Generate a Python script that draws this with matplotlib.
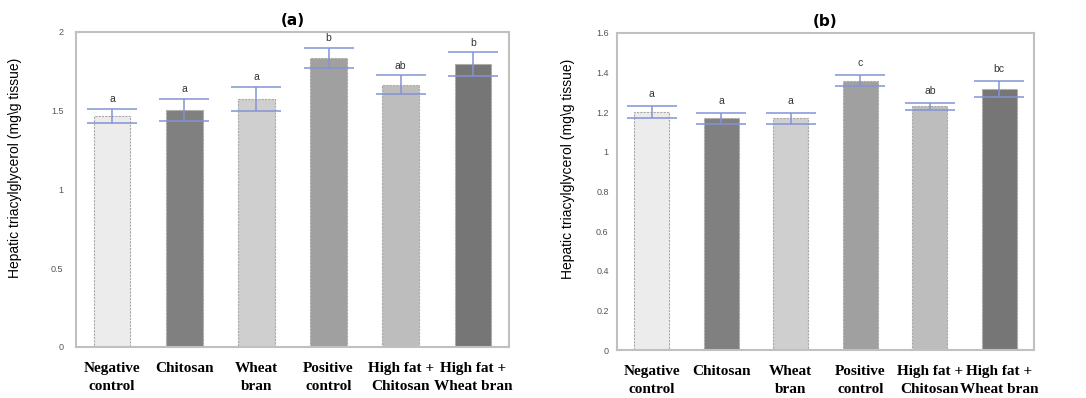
import numpy as np
import matplotlib
matplotlib.use("Agg")
import matplotlib.pyplot as plt

groups = ['Negative\ncontrol', 'Chitosan', 'Wheat\nbran', 'Positive\ncontrol',
          'High fat +\nChitosan', 'High fat +\nWheat bran']

# panel (a)
mean_a = [1.465, 1.505, 1.575, 1.835, 1.665, 1.795]
err_a = [0.045, 0.07, 0.075, 0.065, 0.06, 0.075]
letters_a = ['a', 'a', 'a', 'b', 'ab', 'b']

# panel (b)
mean_b = [1.20, 1.17, 1.17, 1.36, 1.23, 1.318]
err_b = [0.03, 0.027, 0.027, 0.027, 0.018, 0.04]
letters_b = ['a', 'a', 'a', 'c', 'ab', 'bc']

bar_colors = ['#ececec', '#808080', '#cfcfcf', '#a0a0a0', '#bdbdbd', '#767676']
err_color = '#8393d4'
ylab = 'Hepatic triacylglycerol (mg\\g tissue)'


def draw_panel(ax, means, errs, letters, title, ymax, yticks, ytl, off, labx):
    x = np.arange(len(groups))
    ax.bar(x, means, width=0.51, color=bar_colors, edgecolor='#a8a8a8',
           linewidth=0.8, linestyle=(0, (2, 1)), zorder=2)
    ax.errorbar(x, means, yerr=errs, fmt='none', ecolor=err_color,
                elinewidth=1.1, capsize=18, capthick=1.1, zorder=3)
    for xi, m, e, l in zip(x, means, errs, letters):
        ax.text(xi, m + e + off, l, ha='center', va='bottom', fontsize=7.5,
                color='#333333', family='Liberation Sans')
    ax.set_xlim(-0.5, len(groups) - 0.5)
    ax.set_ylim(0, ymax)
    ax.set_yticks(yticks)
    ax.set_yticklabels(ytl, fontsize=6.5, color='#555555', family='Liberation Sans')
    ax.set_xticks(x)
    ax.set_xticklabels(groups, fontsize=11, fontweight='bold',
                       family='Liberation Serif', linespacing=1.45)
    ax.tick_params(length=0)
    ax.tick_params(axis='x', pad=11)
    ax.tick_params(axis='y', pad=9)
    for s in ax.spines.values():
        s.set_color('#c0c0c0')
        s.set_linewidth(1.5)
    ax.set_title(title, fontsize=11, fontweight='bold', pad=5)
    ax.set_ylabel(ylab, fontsize=10, family='Liberation Sans')
    ax.yaxis.set_label_coords(labx, 0.57)


fig = plt.figure(figsize=(10.86, 3.98), dpi=100)
ax1 = fig.add_axes([76 / 1086, 1 - 347 / 398, 433 / 1086, 315 / 398])
ax2 = fig.add_axes([617 / 1086, 1 - 350 / 398, 417 / 1086, 317 / 398])

draw_panel(ax1, mean_a, err_a, letters_a, '(a)', 2,
           [0, 0.5, 1, 1.5, 2], ['0', '0.5', '1', '1.5', '2'], 0.03, -0.125)
draw_panel(ax2, mean_b, err_b, letters_b, '(b)', 1.6,
           [0, 0.2, 0.4, 0.6, 0.8, 1, 1.2, 1.4, 1.6],
           ['0', '0.2', '0.4', '0.6', '0.8', '1', '1.2', '1.4', '1.6'], 0.035, -0.10)
ax2.tick_params(axis='y', pad=6)

fig.savefig('out.png', dpi=100)
